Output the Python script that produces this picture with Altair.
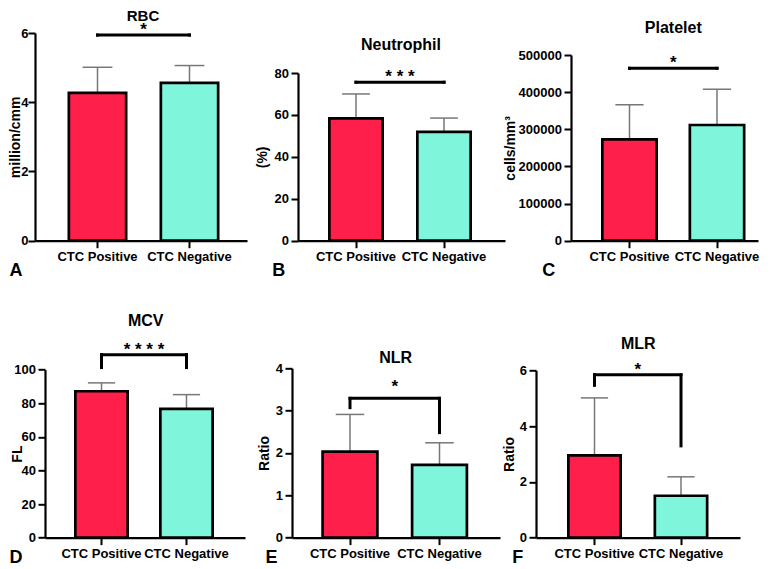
import altair as alt
import pandas as pd

# ---------------- data ----------------
groups = ["CTC Positive", "CTC Negative"]

rbc_mean = [4.27, 4.56]
rbc_upper = [5.01, 5.06]
neut_mean = [58.4, 51.9]
neut_upper = [70.0, 58.5]
plt_mean = [273000, 311500]
plt_upper = [366000, 407700]
mcv_mean = [87.1, 76.6]
mcv_upper = [92.1, 85.1]
nlr_mean = [2.03, 1.72]
nlr_upper = [2.91, 2.24]
mlr_mean = [2.95, 1.50]
mlr_upper = [5.01, 2.18]

panel_titles = ["RBC", "Neutrophil", "Platelet", "MCV", "NLR", "MLR"]
panel_letters = ["A", "B", "C", "D", "E", "F"]
y_titles = ["million/cmm", "(%)", "cells/mm³", "FL", "Ratio", "Ratio"]
y_ticks = [
    [0, 2, 4, 6],
    [0, 20, 40, 60, 80],
    [0, 100000, 200000, 300000, 400000, 500000],
    [0, 20, 40, 60, 80, 100],
    [0, 1, 2, 3, 4],
    [0, 2, 4, 6],
]
sig_labels = ["*", "* * *", "*", "* * * *", "*", "*"]
sig_top = [5.94, 75.6, 464200, 108.9, 3.29, 5.84]
sig_drop_left = [5.94, 75.6, 464200, 101.2, 3.07, 5.46]
sig_drop_right = [5.94, 75.6, 464200, 101.2, 2.48, 3.29]
sig_label_y = [5.94, 75.6, 464200, 108.9, 3.44, 5.84]

means = [rbc_mean, neut_mean, plt_mean, mcv_mean, nlr_mean, mlr_mean]
uppers = [rbc_upper, neut_upper, plt_upper, mcv_upper, nlr_upper, mlr_upper]

# ---------------- styling / layout (page pixels) ----------------
FONT = "Liberation Sans"
RED = "#FF1F4B"
TEAL = "#7FF5DB"
GRAY = "#777777"
BAR_STROKE = 2.7

ROW_TOP = [34.0, 370.7]
ROW_H = [207.7, 169.3]
ROW_SPACING = [51, 36]

LAYOUT = [
    dict(row=0, origin=35, width=212, axis_x=35, r1=247, c1=97.5, c2=189.5, bw=60,
         top_y=34, ytitle_x=19.5, letter_x=9, letter_y=276, title_off=-14.9, title_fs=15,
         title_cx=143, lab_pad=0),
    dict(row=0, origin=298, width=222, axis_x=298, r1=505, c1=356, c2=444, bw=56,
         top_y=74, ytitle_x=266.5, letter_x=271.7, letter_y=276, title_off=-32.7, title_fs=16,
         title_cx=401, lab_pad=2.5),
    dict(row=0, origin=571, width=187, axis_x=571, r1=758, c1=629.5, c2=717, bw=57,
         top_y=56, ytitle_x=514.5, letter_x=541.7, letter_y=276, title_off=-16, title_fs=16,
         title_cx=673.3, lab_pad=2.5),
    dict(row=1, origin=35, width=221, axis_x=45, r1=245, c1=101.5, c2=186.5, bw=55,
         top_y=372, ytitle_x=21, letter_x=9, letter_y=565, title_off=-1.25, title_fs=16,
         title_cx=145.7, lab_pad=2.5),
    dict(row=1, origin=292, width=208, axis_x=292, r1=500, c1=350, c2=439.5, bw=57.5,
         top_y=370.7, ytitle_x=268.3, letter_x=265, letter_y=565, title_off=-17, title_fs=16,
         title_cx=395.7, lab_pad=2.5),
    dict(row=1, origin=536, width=204, axis_x=536, r1=740, c1=594.5, c2=681, bw=55,
         top_y=372.7, ytitle_x=513.3, letter_x=511.7, letter_y=565, title_off=-3.8, title_fs=16,
         title_cx=638.3, lab_pad=2.5),
]


def band_params(r0, r1, c1, c2, bw_outer):
    bw = bw_outer - BAR_STROKE
    step = c2 - c1
    p_inner = 1 - bw / step
    span = step + bw
    outer = (r1 - r0) - span
    left = (c1 - bw / 2) - r0
    return p_inner, outer / (2 * step), left / outer


def make_panel(i):
    L = LAYOUT[i]
    row = L["row"]
    H = ROW_H[row]
    top = ROW_TOP[row]
    ymax = y_ticks[i][-1]
    pi, po, al = band_params(L["axis_x"], L["r1"], L["c1"], L["c2"], L["bw"])

    xscale = alt.Scale(domain=groups, range=[L["axis_x"] - L["origin"], L["r1"] - L["origin"]],
                       paddingInner=pi, paddingOuter=po, align=al)
    yscale = alt.Scale(domain=[0, ymax], range=[H, L["top_y"] - top], nice=False, zero=True)

    xaxis = alt.Axis(title=panel_letters[i], labelAngle=0, labelOverlap=False, labelPadding=3,
                     titleX=L["letter_x"] - L["origin"], titleY=L["letter_y"] - (top + H),
                     titleAlign="left", titleBaseline="alphabetic", titleAngle=0,
                     titleFontSize=18)
    yaxis = alt.Axis(title=y_titles[i], values=y_ticks[i], format="d",
                     offset=-(L["axis_x"] - L["origin"]), labelPadding=L["lab_pad"],
                     titleX=L["ytitle_x"] - L["axis_x"], titleBaseline="alphabetic",
                     titleAngle=270, titleFontSize=14)

    df = pd.DataFrame({"group": groups, "mean": means[i], "upper": uppers[i]})
    sig = pd.DataFrame({"x1": [groups[0]], "x2": [groups[1]], "top": [sig_top[i]],
                        "label": [sig_labels[i]], "ly": [sig_label_y[i]]})
    drops = pd.DataFrame({"g": groups, "top": [sig_top[i], sig_top[i]],
                          "end": [sig_drop_left[i], sig_drop_right[i]]})

    def X(field):
        return alt.X(field, type="nominal", sort=groups, scale=xscale, axis=xaxis)

    def Y(field):
        return alt.Y(field, type="quantitative", scale=yscale, axis=yaxis)

    cap_w = (L["bw"] - BAR_STROKE) * 0.52

    err = alt.Chart(df).mark_rule(color=GRAY, strokeWidth=1.5).encode(
        x=X("group"), y=Y("mean"), y2="upper:Q")
    cap = alt.Chart(df).mark_tick(orient="horizontal", size=cap_w, thickness=1.5, color=GRAY,
                                  opacity=1).encode(x=X("group"), y=Y("upper"))
    bars = alt.Chart(df).mark_bar(stroke="black", strokeWidth=BAR_STROKE, opacity=1).encode(
        x=X("group"), y=Y("mean"),
        color=alt.Color("group:N", scale=alt.Scale(domain=groups, range=[RED, TEAL]), legend=None))
    hline = alt.Chart(sig).mark_rule(color="black", strokeWidth=3, strokeCap="square").encode(
        x=X("x1"), x2="x2:N", y=Y("top"))
    dline = alt.Chart(drops).mark_rule(color="black", strokeWidth=3, strokeCap="square").encode(
        x=X("g"), y=Y("top"), y2="end:Q")
    stars = alt.Chart(sig).mark_text(font=FONT, fontSize=17, fontWeight="bold", baseline="alphabetic",
                                     align="center", color="black",
                                     dx=(L["c2"] - L["c1"]) / 2).encode(
        x=X("x1"), y=Y("ly"), text="label:N")

    title = alt.TitleParams(text=panel_titles[i], frame="group", anchor="middle", orient="top",
                            offset=L["title_off"],
                            dx=L["title_cx"] - (L["origin"] + L["width"] / 2),
                            baseline="alphabetic", font=FONT, fontSize=L["title_fs"],
                            fontWeight="bold", color="black")
    return alt.layer(err, cap, bars, hline, dline, stars).properties(
        width=L["width"], height=H, title=title)


row1 = alt.hconcat(make_panel(0), make_panel(1), make_panel(2), spacing=ROW_SPACING[0], bounds="flush")
row2 = alt.hconcat(make_panel(3), make_panel(4), make_panel(5), spacing=ROW_SPACING[1], bounds="flush")

chart = alt.vconcat(row1, row2, spacing=33.3, bounds="full").properties(
    padding=0, background="white"
).configure_axis(
    labelFont=FONT, labelFontWeight="bold", labelFontSize=13, labelColor="black",
    titleFont=FONT, titleFontWeight="bold", titleColor="black",
    domainColor="black", domainWidth=2.2, tickColor="black", tickWidth=2, tickSize=7,
    grid=False, minExtent=0,
).configure_view(strokeWidth=0)

chart.save("out.html", embed_options={"renderer": "svg", "actions": False})
